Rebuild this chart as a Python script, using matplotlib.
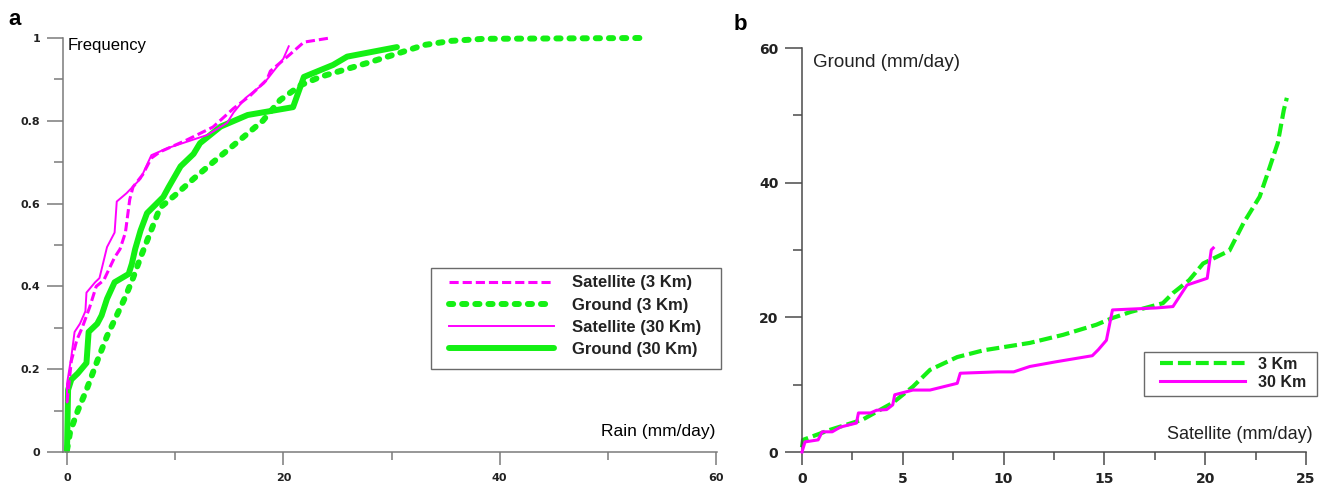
import matplotlib
matplotlib.use("Agg")
import matplotlib.pyplot as plt
from matplotlib.patches import Rectangle

plt.rcParams['font.family'] = ['Liberation Sans', 'DejaVu Sans']

W, H = 1323, 486

# ---------------- Panel a data (cumulative frequency) ----------------
sat3_x = [0.0, 0.4, 0.9, 1.4, 2.1, 2.7, 3.4, 4.4, 4.9, 5.4, 5.8, 6.1, 7.0, 7.8, 8.6, 11.1, 13.5, 15.4, 16.9, 18.5, 18.8, 20.6, 21.9, 24.3]
sat3_y = [0.12, 0.22, 0.27, 0.30, 0.35, 0.40, 0.415, 0.47, 0.49, 0.53, 0.61, 0.64, 0.67, 0.71, 0.725, 0.754, 0.785, 0.83, 0.86, 0.90, 0.92, 0.96, 0.99, 1.0]

gr3_x = [0.0, 0.3, 1.0, 1.8, 2.8, 3.7, 4.6, 5.4, 6.1, 6.8, 7.7, 8.6, 10.2, 11.7, 13.5, 16.0, 18.1, 19.7, 21.6, 23.4, 25.6, 27.8, 30.5, 33.0, 35.5, 38.5, 53.0]
gr3_y = [0.005, 0.05, 0.10, 0.15, 0.22, 0.28, 0.33, 0.375, 0.42, 0.47, 0.53, 0.59, 0.625, 0.66, 0.70, 0.754, 0.80, 0.85, 0.886, 0.906, 0.923, 0.94, 0.962, 0.983, 0.993, 0.998, 1.0]

sat30_x = [0.0, 0.0, 0.4, 0.7, 1.2, 1.7, 1.8, 2.6, 3.0, 3.7, 4.4, 4.6, 5.5, 6.8, 7.8, 9.3, 13.0, 14.8, 15.4, 16.5, 18.2, 20.0, 20.5]
sat30_y = [0.12, 0.165, 0.23, 0.29, 0.31, 0.34, 0.385, 0.41, 0.42, 0.495, 0.53, 0.605, 0.625, 0.66, 0.717, 0.734, 0.766, 0.795, 0.82, 0.855, 0.89, 0.95, 0.98]

gr30_x = [0.0, 0.1, 0.4, 1.0, 1.8, 2.0, 2.8, 3.2, 3.7, 4.4, 5.7, 6.0, 6.3, 6.8, 7.4, 8.9, 9.4, 10.5, 11.7, 12.3, 14.2, 16.7, 20.9, 21.9, 24.6, 25.9, 30.5]
gr30_y = [0.005, 0.15, 0.175, 0.19, 0.215, 0.29, 0.31, 0.33, 0.37, 0.41, 0.43, 0.455, 0.49, 0.535, 0.577, 0.616, 0.64, 0.69, 0.72, 0.746, 0.786, 0.814, 0.833, 0.906, 0.935, 0.955, 0.978]

a_xticks = [0, 20, 40, 60]
a_yticks = [0, 0.2, 0.4, 0.6, 0.8, 1]
a_yticklabels = ["0", "0.2", "0.4", "0.6", "0.8", "1"]
a_labels = ['Satellite (3 Km)', 'Ground (3 Km)', 'Satellite (30 Km)', 'Ground (30 Km)']

# ---------------- Panel b data (Q-Q) ----------------
b3_x = [0.0, 0.05, 1.4, 3.0, 4.5, 5.5, 6.35, 7.7, 9.0, 11.3, 12.95, 14.6, 15.4, 16.3, 17.9, 18.4, 19.2, 19.9, 21.2, 21.9, 22.7, 23.1, 23.6, 23.9, 24.05]
b3_y = [0.7, 1.8, 3.3, 4.8, 7.3, 9.7, 12.2, 14.1, 15.1, 16.2, 17.4, 18.9, 19.9, 20.8, 22.1, 23.6, 25.5, 28.0, 29.9, 34.0, 37.9, 41.4, 45.9, 50.8, 52.6]

b30_x = [0.0, 0.15, 0.8, 1.0, 1.5, 1.9, 2.7, 2.8, 3.4, 3.7, 4.2, 4.5, 4.6, 5.5, 6.35, 7.7, 7.85, 9.7, 10.5, 11.3, 12.6, 14.4, 14.7, 15.1, 15.4, 17.6, 18.4, 19.1, 20.1, 20.3, 20.4]
b30_y = [0.0, 1.5, 1.8, 3.0, 3.0, 3.7, 4.3, 5.8, 5.8, 6.2, 6.3, 7.0, 8.5, 9.2, 9.2, 10.2, 11.7, 11.9, 11.9, 12.7, 13.4, 14.3, 15.2, 16.6, 21.1, 21.4, 21.6, 24.8, 25.8, 30.0, 30.3]

b_xticks = [0, 5, 10, 15, 20, 25]
b_yticks = [0, 20, 40, 60]
b_labels = ['3 Km', '30 Km']

MAG = '#ff00ff'
GRN = '#14f014'

fig = plt.figure(figsize=(W / 100, H / 100), dpi=100)

def fx(px):
    return px / W

def fy(py):
    return 1 - py / H

def frame(x1, y1, x2, y2):
    fig.patches.append(Rectangle((fx(x1), fy(y2)), (x2 - x1) / W, (y2 - y1) / H,
                                 transform=fig.transFigure, fill=False,
                                 edgecolor='#6a6a6a', linewidth=1.0))

TICKFONT = ['DejaVu Sans']

# ---------------- Panel a ----------------
x0a, x60a = 67, 716
ppu = (x60a - x0a) / 60.0
xl, xr = -0.35, 60.1
left_px = x0a + xl * ppu
right_px = x0a + xr * ppu
axa = fig.add_axes([fx(left_px), fy(452), (right_px - left_px) / W, (452 - 38) / H])
axa.set_xlim(xl, xr)
axa.set_ylim(0, 1)

l_gr3, = axa.plot(gr3_x, gr3_y, color=GRN, lw=4.3, linestyle=(0, (0.7, 1.5)),
                  dash_capstyle='round', solid_capstyle='round', clip_on=False, zorder=2)
l_gr30, = axa.plot(gr30_x, gr30_y, color=GRN, lw=4.3, solid_capstyle='round', clip_on=False, zorder=2)
l_sat3, = axa.plot(sat3_x, sat3_y, color=MAG, lw=2.2, linestyle=(0, (3, 1.3)), clip_on=False, zorder=3)
l_sat30, = axa.plot(sat30_x, sat30_y, color=MAG, lw=1.4, clip_on=False, zorder=3)

SPC_A = '#7a7a7a'
for s in ['top', 'right']:
    axa.spines[s].set_visible(False)
for s in ['left', 'bottom']:
    axa.spines[s].set_color(SPC_A)
    axa.spines[s].set_linewidth(1.1)
axa.set_xticks(a_xticks)
axa.set_xticks([10, 30, 50], minor=True)
axa.set_yticks(a_yticks)
axa.set_yticklabels(a_yticklabels)
axa.set_yticks([0.1, 0.3, 0.5, 0.7, 0.9], minor=True)
axa.tick_params(axis='y', which='major', length=11.5, width=1.1, color=SPC_A, pad=5, labelsize=8, labelcolor='#222222')
axa.tick_params(axis='y', which='minor', length=6.5, width=1.1, color=SPC_A)
axa.tick_params(axis='x', which='major', length=9.4, width=1.1, color=SPC_A, pad=6, labelsize=8, labelcolor='#222222')
axa.tick_params(axis='x', which='minor', length=5.5, width=1.1, color=SPC_A)
for lab in axa.get_xticklabels() + axa.get_yticklabels():
    lab.set_fontweight('bold')
    lab.set_family(TICKFONT)

fig.text(fx(68), fy(50), 'Frequency', fontsize=12, va='baseline', ha='left')
fig.text(fx(715), fy(436), 'Rain (mm/day)', fontsize=12.5, va='baseline', ha='right')
fig.text(fx(8), fy(25), 'a', fontsize=16, fontweight='bold', va='baseline', ha='left')

fs_a = 12
leg_a = fig.legend([l_sat3, l_gr3, l_sat30, l_gr30], a_labels,
                   loc='upper left', bbox_to_anchor=(fx(449), fy(275.5)), borderaxespad=0,
                   prop={'weight': 'bold', 'size': fs_a}, handlelength=6.3, handletextpad=1.08,
                   labelspacing=0.43, borderpad=0, frameon=False)
for t in leg_a.get_texts():
    t.set_color('#222222')
frame(431, 268, 721, 369)

# ---------------- Panel b ----------------
x0b, x25b = 802, 1306
axb = fig.add_axes([fx(x0b), fy(452), (x25b - x0b) / W, (452 - 48) / H])
axb.set_xlim(0, 25)
axb.set_ylim(0, 60)
lb3, = axb.plot(b3_x, b3_y, color=GRN, lw=3.0, linestyle=(0, (3.1, 1.2)), clip_on=False, zorder=2)
lb30, = axb.plot(b30_x, b30_y, color=MAG, lw=2.2, clip_on=False, zorder=3)

SPC_B = '#4a4a4a'
for s in ['top', 'right']:
    axb.spines[s].set_visible(False)
for s in ['left', 'bottom']:
    axb.spines[s].set_color(SPC_B)
    axb.spines[s].set_linewidth(1.1)
axb.set_xticks(b_xticks)
axb.set_xticks([2.5, 7.5, 12.5, 17.5, 22.5], minor=True)
axb.set_yticks(b_yticks)
axb.set_yticks([10, 30, 50], minor=True)
axb.tick_params(axis='y', which='major', length=12, width=1.1, color=SPC_B, pad=5, labelsize=10, labelcolor='#222222')
axb.tick_params(axis='y', which='minor', length=6.5, width=1.1, color=SPC_B)
axb.tick_params(axis='x', which='major', length=9.4, width=1.1, color=SPC_B, pad=5, labelsize=10, labelcolor='#222222')
axb.tick_params(axis='x', which='minor', length=5.5, width=1.1, color=SPC_B)
for lab in axb.get_xticklabels() + axb.get_yticklabels():
    lab.set_fontweight('bold')
    lab.set_family(TICKFONT)

fig.text(fx(813), fy(67), 'Ground (mm/day)', fontsize=13.5, va='baseline', ha='left', color='#222222')
fig.text(fx(1313), fy(439), 'Satellite (mm/day)', fontsize=13, va='baseline', ha='right', color='#222222')
fig.text(fx(734), fy(30), 'b', fontsize=16, fontweight='bold', va='baseline', ha='left')

leg_b = fig.legend([lb3, lb30], b_labels,
                   loc='upper left', bbox_to_anchor=(fx(1160), fy(356.7)), borderaxespad=0,
                   prop={'weight': 'bold', 'size': 11.5}, handlelength=5.3, handletextpad=0.81,
                   labelspacing=0.21, borderpad=0, frameon=False)
for t in leg_b.get_texts():
    t.set_color('#222222')
frame(1144, 352, 1317, 396)

fig.savefig('out.png', dpi=100)
